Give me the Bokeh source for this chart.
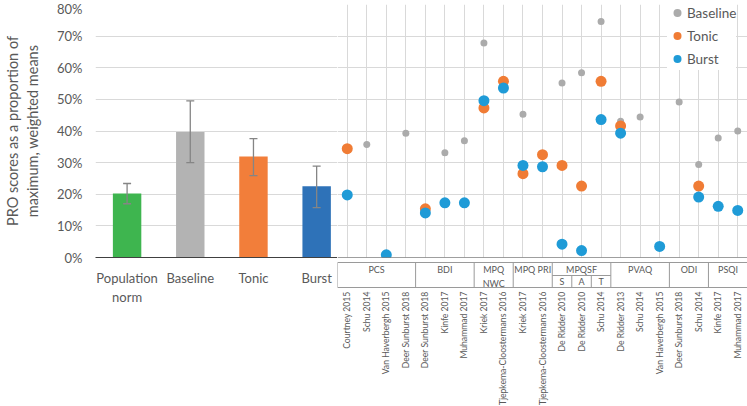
import math
from bokeh.plotting import figure
from bokeh.layouts import row, column
from bokeh.models import (Range1d, FixedTicker, NumeralTickFormatter, Whisker,
                          ColumnDataSource, Span, TeeHead)
from bokeh.core.properties import value
from bokeh.embed import file_html
from bokeh.resources import INLINE

FONT = "Lato"
TXT = "#595959"
GRID = "#D9D9D9"

# ---------------- data ----------------
bar_labels = ["Population\nnorm", "Baseline", "Tonic", "Burst"]
bar_values = [0.202, 0.397, 0.319, 0.225]
bar_err_low = [0.170, 0.300, 0.259, 0.158]
bar_err_high = [0.234, 0.495, 0.376, 0.289]
bar_colors = ["#3EB54F", "#B3B3B3", "#F27E3A", "#2E72B8"]

y_ticks = [0.0, 0.1, 0.2, 0.3, 0.4, 0.5, 0.6, 0.7, 0.8]

groups = ["PCS", "BDI", "MPQ\nNWC", "MPQ PRI", "MPQSF", "PVAQ", "ODI", "PSQI"]
group_sizes = [4, 3, 2, 2, 3, 3, 2, 2]
sub_group = "MPQSF"
sub_labels = ["S", "A", "T"]

studies = ["Courtney 2015", "Schu 2014", "Van Haverbergh 2015", "Deer Sunburst 2018",
           "Deer Sunburst 2018", "Kinfe 2017", "Muhammad 2017",
           "Kriek 2017", "Tjepkema-Cloostermans 2016",
           "Kriek 2017", "Tjepkema-Cloostermans 2016",
           "De Ridder 2010", "De Ridder 2010", "Schu 2014",
           "De Ridder 2013", "Schu 2014", "Van Haverbergh 2015",
           "Deer Sunburst 2018", "Schu 2014",
           "Kinfe 2017", "Muhammad 2017"]
N = None
baseline = [N, 0.357, N, 0.393, N, 0.331, 0.369, 0.678, N, 0.453, N,
            0.552, 0.584, 0.746, 0.431, 0.444, N, 0.492, 0.294, 0.378, 0.400]
tonic = [0.344, N, N, N, 0.154, N, N, 0.473, 0.557, 0.265, 0.325,
         0.291, 0.226, 0.557, 0.416, N, N, N, 0.226, N, N]
burst = [0.198, N, 0.0085, N, 0.141, 0.173, 0.173, 0.496, 0.536, 0.291, 0.287,
         0.042, 0.022, 0.436, 0.393, N, 0.035, N, 0.191, 0.162, 0.149]

series = [("Baseline", baseline, "#ABABAB", 7),
          ("Tonic", tonic, "#F07C35", 11),
          ("Burst", burst, "#1F9BD7", 11)]

# ---------------- left panel: bars ----------------
n_bars = len(bar_labels)
bx = list(range(n_bars))
left = figure(width=337, height=406, x_range=Range1d(-0.5, n_bars - 0.67),
              y_range=Range1d(y_ticks[0], y_ticks[-1]),
              output_backend="svg", toolbar_location=None,
              min_border_left=92, min_border_right=0, min_border_top=4,
              min_border_bottom=149)
left.outline_line_color = None
left.background_fill_color = "white"
bsrc = ColumnDataSource(dict(x=bx, top=bar_values, lo=bar_err_low, hi=bar_err_high,
                             color=bar_colors))
left.vbar(x="x", top="top", width=0.45, fill_color="color", line_color=None, source=bsrc)
wh = Whisker(source=bsrc, base="x", upper="hi", lower="lo", line_color="#858585",
             line_width=1.3, level="overlay",
             upper_head=TeeHead(size=8, line_color="#858585", line_width=1.3),
             lower_head=TeeHead(size=8, line_color="#858585", line_width=1.3))
left.add_layout(wh)

left.xgrid.visible = False
left.ygrid.ticker = FixedTicker(ticks=y_ticks)
left.ygrid.grid_line_color = GRID
left.xaxis.ticker = FixedTicker(ticks=bx)
left.xaxis.major_label_overrides = {i: lab for i, lab in zip(bx, bar_labels)}
left.xaxis.major_tick_in = 0
left.xaxis.major_tick_out = 0
left.xaxis.minor_tick_out = 0
left.xaxis.axis_line_color = "#404040"
left.xaxis.major_label_standoff = 12
left.xaxis.major_label_text_font = FONT
left.xaxis.major_label_text_font_size = "13px"
left.xaxis.major_label_text_color = TXT

left.yaxis.ticker = FixedTicker(ticks=y_ticks)
left.yaxis.formatter = NumeralTickFormatter(format="0%")
left.yaxis.axis_line_color = None
left.yaxis.major_tick_in = 0
left.yaxis.major_tick_out = 0
left.yaxis.minor_tick_out = 0
left.yaxis.major_label_standoff = 13
left.yaxis.major_label_text_font = FONT
left.yaxis.major_label_text_font_size = "13px"
left.yaxis.major_label_text_color = TXT
left.yaxis.axis_label = "PRO scores as a proportion of\nmaximum, weighted means"
left.yaxis.axis_label_text_font = FONT
left.yaxis.axis_label_text_font_size = "14.5px"
left.yaxis.axis_label_text_font_style = "normal"
left.yaxis.axis_label_text_color = TXT
left.yaxis.axis_label_standoff = 13

# ---------------- right panel: study points ----------------
n = len(studies)
xr = Range1d(-0.5, n - 0.5)
rt = figure(width=410, height=258, x_range=xr, y_range=Range1d(y_ticks[0], y_ticks[-1]),
            x_axis_location=None, y_axis_location=None,
            output_backend="svg", toolbar_location=None,
            min_border_left=0, min_border_right=0, min_border_top=4, min_border_bottom=1)
rt.outline_line_color = None
rt.xgrid.ticker = FixedTicker(ticks=list(range(n)))
rt.ygrid.ticker = FixedTicker(ticks=y_ticks)
rt.grid.grid_line_color = GRID
rt.add_layout(Span(location=0, dimension="width", line_color="#404040", line_width=1))

for name, vals, col, size in series:
    xs = [i for i, v in enumerate(vals) if v is not None]
    ys = [v for v in vals if v is not None]
    rt.scatter(xs, ys, size=size, fill_color=col, line_color=None, legend_label=name)

lg = rt.legend[0]
lg.location = (330, 187)
lg.margin = 0
lg.padding = 1
lg.border_line_color = None
lg.background_fill_color = "white"
lg.background_fill_alpha = 1
lg.glyph_width = 20
lg.glyph_height = 23
lg.spacing = 0
lg.label_standoff = 0
lg.label_height = 23
lg.label_text_font = FONT
lg.label_text_font_size = "13.5px"
lg.label_text_color = TXT

# ---------------- right panel: category table ----------------
rb = figure(width=410, height=148, x_range=xr, y_range=Range1d(148, 0),
            x_axis_location=None, y_axis_location=None,
            output_backend="svg", toolbar_location=None, min_border=0)
rb.outline_line_color = None
rb.grid.visible = False

TOP, MID, BOT = 4, 17, 29
bounds = [-0.5]
for s in group_sizes:
    bounds.append(bounds[-1] + s)
x0s = [b for b in bounds] + [bounds[0], bounds[0]]
x1s = [b for b in bounds] + [bounds[-1], bounds[-1]]
y0s = [TOP] * len(bounds) + [TOP, BOT]
y1s = [BOT] * len(bounds) + [TOP, BOT]
gi = groups.index(sub_group)
s0 = bounds[gi]
x0s += [s0, s0 + 1, s0 + 2]
x1s += [s0 + len(sub_labels), s0 + 1, s0 + 2]
y0s += [MID, MID, MID]
y1s += [MID, BOT, BOT]
rb.segment(x0=x0s, y0=y0s, x1=x1s, y1=y1s, line_color="#9A9A9A", line_width=1)

gx = [bounds[k] + group_sizes[k] / 2 for k in range(len(groups))]
rb.text(x=gx, y=[TOP + 1.5] * len(groups), text=groups, text_align="center",
        text_baseline="top", text_font=value(FONT), text_font_size="9px",
        text_color=TXT, text_line_height=1.3)
rb.text(x=[s0 + 0.5 + k for k in range(len(sub_labels))], y=[(MID + BOT) / 2] * len(sub_labels),
        text=sub_labels, text_align="center", text_baseline="middle",
        text_font=value(FONT), text_font_size="9px", text_color=TXT)
rb.text(x=list(range(n)), y=[33] * n, text=studies, angle=math.pi / 2,
        text_align="right", text_baseline="middle", text_font=value(FONT),
        text_font_size="8.6px", text_color=TXT)

layout = row(left, column(rt, rb, spacing=0), spacing=0)

open("out.html", "w").write(file_html(layout, INLINE))
